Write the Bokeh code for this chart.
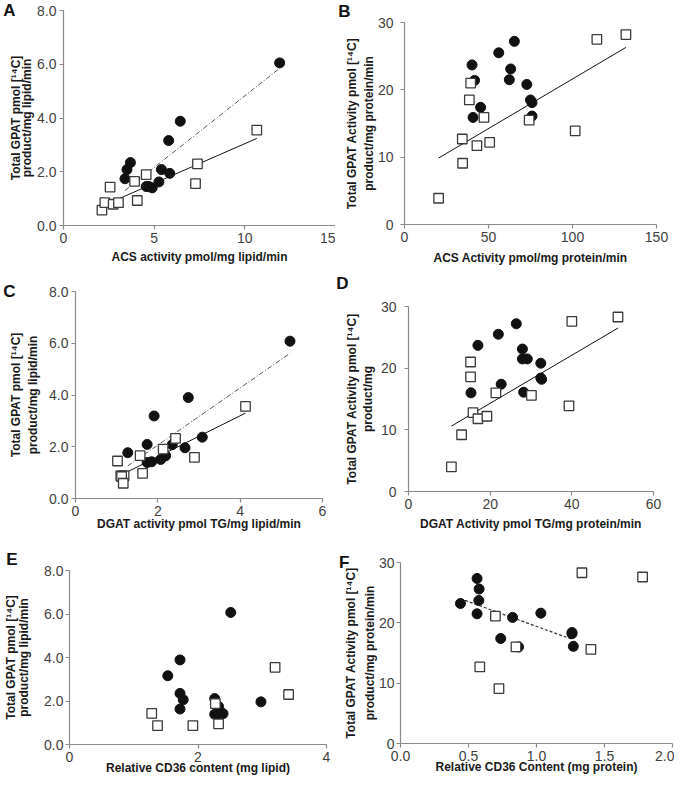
from bokeh.plotting import figure
from bokeh.layouts import column, row
from bokeh.models import Range1d, FixedTicker, LinearAxis
from bokeh.embed import file_html
from bokeh.resources import INLINE

# ---------------- data ----------------
# Panel A: ACS activity (pmol/mg lipid/min) vs total GPAT (lipid)
a_circ_x = [11.92, 6.44, 5.80, 3.69, 3.50, 3.39, 5.40, 5.86, 5.26, 4.56, 4.71, 4.89]
a_circ_y = [6.05, 3.88, 3.16, 2.34, 2.08, 1.74, 2.08, 1.94, 1.62, 1.45, 1.45, 1.40]
a_sq_x = [2.12, 2.57, 2.28, 2.74, 3.03, 3.92, 4.56, 4.07, 7.39, 7.28, 10.66]
a_sq_y = [0.57, 1.43, 0.85, 0.79, 0.85, 1.64, 1.89, 0.93, 2.29, 1.56, 3.55]
a_circ_fit_x = [3.39, 11.92]
a_circ_fit_y = [1.30, 5.85]
a_sq_fit_x = [2.12, 10.66]
a_sq_fit_y = [0.72, 3.24]

# Panel B: ACS activity (pmol/mg protein/min) vs total GPAT (protein)
b_circ_x = [40.2, 41.7, 40.8, 45.3, 56.1, 65.4, 63.2, 62.4, 72.8, 75.0, 75.9, 75.9]
b_circ_y = [23.7, 21.4, 15.9, 17.4, 25.5, 27.2, 23.1, 21.5, 20.8, 18.5, 18.1, 16.1]
b_sq_x = [20.3, 34.6, 34.4, 43.1, 50.7, 47.3, 38.6, 39.4, 74.2, 101.6, 114.5, 131.8]
b_sq_y = [3.9, 9.1, 12.7, 11.7, 12.2, 15.9, 18.5, 21.0, 15.5, 13.9, 27.5, 28.2]
b_sq_fit_x = [20.3, 131.8]
b_sq_fit_y = [9.87, 26.3]

# Panel C: DGAT activity (pmol TG/mg lipid/min) vs total GPAT (lipid)
c_circ_x = [5.21, 2.74, 1.91, 1.74, 1.27, 3.08, 2.66, 2.35, 2.19, 2.07, 1.74, 1.85]
c_circ_y = [6.08, 3.90, 3.19, 2.09, 1.77, 2.37, 1.96, 2.08, 1.65, 1.51, 1.39, 1.42]
c_sq_x = [1.02, 1.10, 1.18, 1.12, 1.16, 1.63, 1.57, 2.13, 2.43, 2.89, 4.13]
c_sq_y = [1.45, 0.88, 0.88, 0.85, 0.59, 0.97, 1.66, 1.91, 2.32, 1.59, 3.56]
c_circ_fit_x = [1.27, 5.21]
c_circ_fit_y = [1.26, 5.61]
c_sq_fit_x = [1.02, 4.13]
c_sq_fit_y = [0.84, 3.30]

# Panel D: DGAT activity (pmol TG/mg protein/min) vs total GPAT (protein)
d_circ_x = [17.0, 15.3, 22.0, 22.7, 26.4, 27.9, 27.9, 29.1, 28.2, 32.4, 32.4, 32.6]
d_circ_y = [23.7, 16.0, 25.5, 17.4, 27.2, 23.1, 21.5, 21.5, 16.1, 20.8, 18.4, 18.2]
d_sq_x = [10.5, 13.0, 15.2, 15.2, 15.8, 17.0, 19.2, 21.4, 30.1, 39.3, 40.0, 51.3]
d_sq_y = [4.0, 9.2, 21.0, 18.6, 12.8, 11.8, 12.2, 16.0, 15.6, 13.9, 27.6, 28.3]
d_sq_fit_x = [10.5, 51.3]
d_sq_fit_y = [10.6, 26.5]

# Panel E: relative CD36 content (mg lipid) vs total GPAT (lipid)
e_circ_x = [2.51, 1.72, 1.53, 1.72, 1.77, 1.72, 2.26, 2.32, 2.26, 2.39, 2.32, 2.98]
e_circ_y = [6.07, 3.89, 3.16, 2.35, 2.06, 1.63, 2.11, 1.75, 1.39, 1.42, 1.39, 1.96]
e_sq_x = [1.28, 1.37, 1.92, 2.27, 2.32, 3.20, 3.41]
e_sq_y = [1.43, 0.87, 0.87, 1.88, 0.95, 3.55, 2.30]

# Panel F: relative CD36 content (mg protein) vs total GPAT (protein)
f_circ_x = [0.563, 0.578, 0.576, 0.441, 0.563, 0.824, 1.032, 0.737, 1.261, 1.261, 1.271, 0.868]
f_circ_y = [27.35, 25.6, 23.7, 23.2, 21.5, 20.9, 21.6, 17.4, 18.4, 18.2, 16.1, 16.0]
f_sq_x = [1.334, 1.780, 0.698, 0.849, 1.400, 0.583, 0.724]
f_sq_y = [28.3, 27.6, 21.1, 16.0, 15.6, 12.7, 9.1]
f_circ_fit_x = [0.44, 1.27]
f_circ_fit_y = [24.0, 17.2]

# ticks
lipid_y_ticks = [0, 2, 4, 6, 8]
lipid_y_labels = ["0.0", "2.0", "4.0", "6.0", "8.0"]
prot_y_ticks = [0, 10, 20, 30]
a_x_ticks = [0, 5, 10, 15]
b_x_ticks = [0, 50, 100, 150]
c_x_ticks = [0, 2, 4, 6]
d_x_ticks = [0, 20, 40, 60]
e_x_ticks = [0, 2, 4]
f_x_ticks = [0, 0.5, 1.0, 1.5, 2.0]
f_x_labels = ["0.0", "0.5", "1.0", "1.5", "2.0"]

# texts
ylab_lipid = ["Total GPAT pmol [\u00b9\u2074C]", "product/mg lipid/min"]
ylab_prot = ["Total GPAT Activity pmol [\u00b9\u2074C]", "product/mg protein/min"]
ylab_d = ["Total GPAT Activity pmol [\u00b9\u2074C]", "product/mg"]
xlab_a = "ACS activity pmol/mg lipid/min"
xlab_b = "ACS Activity pmol/mg protein/min"
xlab_c = "DGAT activity pmol TG/mg lipid/min"
xlab_d = "DGAT Activity pmol TG/mg protein/min"
xlab_e = "Relative CD36 content (mg lipid)"
xlab_f = "Relative CD36 Content (mg protein)"

FONT = "Liberation Sans"
AXIS_COLOR = "#8a8a8a"
TICK_TEXT = "#3f3f3f"
TITLE_TEXT = "#1a1a1a"


def style_title(ax):
    ax.axis_label_text_font = FONT
    ax.axis_label_text_font_style = "bold"
    ax.axis_label_text_font_size = "12px"
    ax.axis_label_text_color = TITLE_TEXT


def make_panel(letter, fw, fh, mbl, mbr, mbt, mbb, xr, yr, xticks, yticks,
               xlabels, ylabels, ytitle, y_std, s2, s1, sl, letter_lines,
               xtitle, x_std):
    p = figure(frame_width=fw, frame_height=fh, output_backend="svg", toolbar_location=None,
               x_range=Range1d(*xr), y_range=Range1d(*yr),
               min_border_left=mbl, min_border_right=mbr,
               min_border_top=mbt, min_border_bottom=mbb)
    p.frame_align = False
    p.outline_line_color = None
    p.background_fill_color = "white"
    p.border_fill_color = "white"
    p.xgrid.visible = False
    p.ygrid.visible = False
    xa = p.xaxis[0]
    ya = p.yaxis[0]
    for ax, ticks, labels in ((xa, xticks, xlabels), (ya, yticks, ylabels)):
        ax.ticker = FixedTicker(ticks=ticks)
        if labels is not None:
            ax.major_label_overrides = {t: l for t, l in zip(ticks, labels)}
        ax.axis_line_color = AXIS_COLOR
        ax.axis_line_width = 1.2
        ax.major_tick_line_color = AXIS_COLOR
        ax.major_tick_line_width = 1.2
        ax.major_tick_out = 4
        ax.major_tick_in = 0
        ax.minor_tick_out = 0
        ax.minor_tick_in = 0
        ax.major_label_text_font = FONT
        ax.major_label_text_font_size = "14px"
        ax.major_label_text_color = TICK_TEXT
        style_title(ax)
    xa.major_label_standoff = 3
    xa.axis_label = xtitle
    xa.axis_label_standoff = x_std
    ya.major_label_standoff = y_std
    ya.axis_label = ytitle[1]
    ya.axis_label_standoff = s2

    # outer line of the y-axis title (an extra, tick-less axis further out)
    ax1 = LinearAxis(ticker=FixedTicker(ticks=[]), axis_label=ytitle[0],
                     axis_label_standoff=s1, axis_line_color=None,
                     major_tick_line_color=None, minor_tick_line_color=None,
                     major_tick_out=0, major_tick_in=0, minor_tick_out=0, minor_tick_in=0,
                     major_label_standoff=0)
    style_title(ax1)
    p.add_layout(ax1, "left")

    # panel letter, shown as the single tick label of an outermost axis
    top = yr[1]
    ax2 = LinearAxis(ticker=FixedTicker(ticks=[top]),
                     major_label_overrides={top: letter + "\n" * (letter_lines - 1)},
                     axis_line_color=None, major_tick_line_color=None,
                     minor_tick_line_color=None, major_tick_out=0, major_tick_in=0,
                     minor_tick_out=0, minor_tick_in=0, major_label_standoff=sl,
                     major_label_text_font=FONT, major_label_text_font_style="bold",
                     major_label_text_font_size="17px", major_label_text_color="#111111")
    p.add_layout(ax2, "left")
    return p


def add_points(p, cx, cy, sx, sy):
    p.scatter(cx, cy, marker="circle", size=10, fill_color="#111111", line_color="#111111")
    p.scatter(sx, sy, marker="square", size=9.5, fill_color="white", line_color="#3a3a3a",
              line_width=1.3)


# Row 1
pA = make_panel("A", 272, 215, 60, 0, 10, 47, (0, 15), (0, 8), a_x_ticks, lipid_y_ticks,
                None, lipid_y_labels, ylab_lipid, 3, 0, -5, -10, 1, xlab_a, 4)
pA.line(a_circ_fit_x, a_circ_fit_y, line_color="#555555", line_width=1, line_dash="5 2 1 2")
pA.line(a_sq_fit_x, a_sq_fit_y, line_color="#111111", line_width=1)
add_points(pA, a_circ_x, a_circ_y, a_sq_x, a_sq_y)

pB = make_panel("B", 252, 202, 69, 16, 22, 48, (0, 150), (0, 30), b_x_ticks, prot_y_ticks,
                None, None, ylab_prot, 7, -1, 0, -9, 2, xlab_b, 6)
pB.line(b_sq_fit_x, b_sq_fit_y, line_color="#111111", line_width=1)
add_points(pB, b_circ_x, b_circ_y, b_sq_x, b_sq_y)

# Row 2
pC = make_panel("C", 247, 207, 74, 11, 19, 36, (0, 6), (0, 8), c_x_ticks, lipid_y_ticks,
                None, lipid_y_labels, ylab_lipid, 3, 6, 1, -10, 1, xlab_c, -2)
pC.line(c_circ_fit_x, c_circ_fit_y, line_color="#555555", line_width=1, line_dash="5 2 1 2")
pC.line(c_sq_fit_x, c_sq_fit_y, line_color="#111111", line_width=1)
add_points(pC, c_circ_x, c_circ_y, c_sq_x, c_sq_y)

pD = make_panel("D", 245, 185, 74, 18, 34, 43, (0, 60), (0, 30), d_x_ticks, prot_y_ticks,
                None, None, ylab_d, 8, 3, -1, -7, 3, xlab_d, 5)
pD.line(d_sq_fit_x, d_sq_fit_y, line_color="#111111", line_width=1)
add_points(pD, d_circ_x, d_circ_y, d_sq_x, d_sq_y)

# Row 3
pE = make_panel("E", 257, 174, 65, 10, 36, 33, (0, 4), (0, 8), e_x_ticks, lipid_y_ticks,
                None, lipid_y_labels, ylab_lipid, 2, 10, -3, -17, 2, xlab_e, -4)
add_points(pE, e_circ_x, e_circ_y, e_sq_x, e_sq_y)

pF = make_panel("F", 272, 181, 63, 2, 28, 34, (0, 2), (0, 30), f_x_ticks, prot_y_ticks,
                f_x_labels, None, ylab_prot, 2, -1, 2, -9, 1, xlab_f, -4)
pF.line(f_circ_fit_x, f_circ_fit_y, line_color="#333333", line_width=1.2, line_dash="3 2")
add_points(pF, f_circ_x, f_circ_y, f_sq_x, f_sq_y)

layout = column(row(pA, pB), row(pC, pD), row(pE, pF))

open("out.html", "w").write(file_html(layout, INLINE))
